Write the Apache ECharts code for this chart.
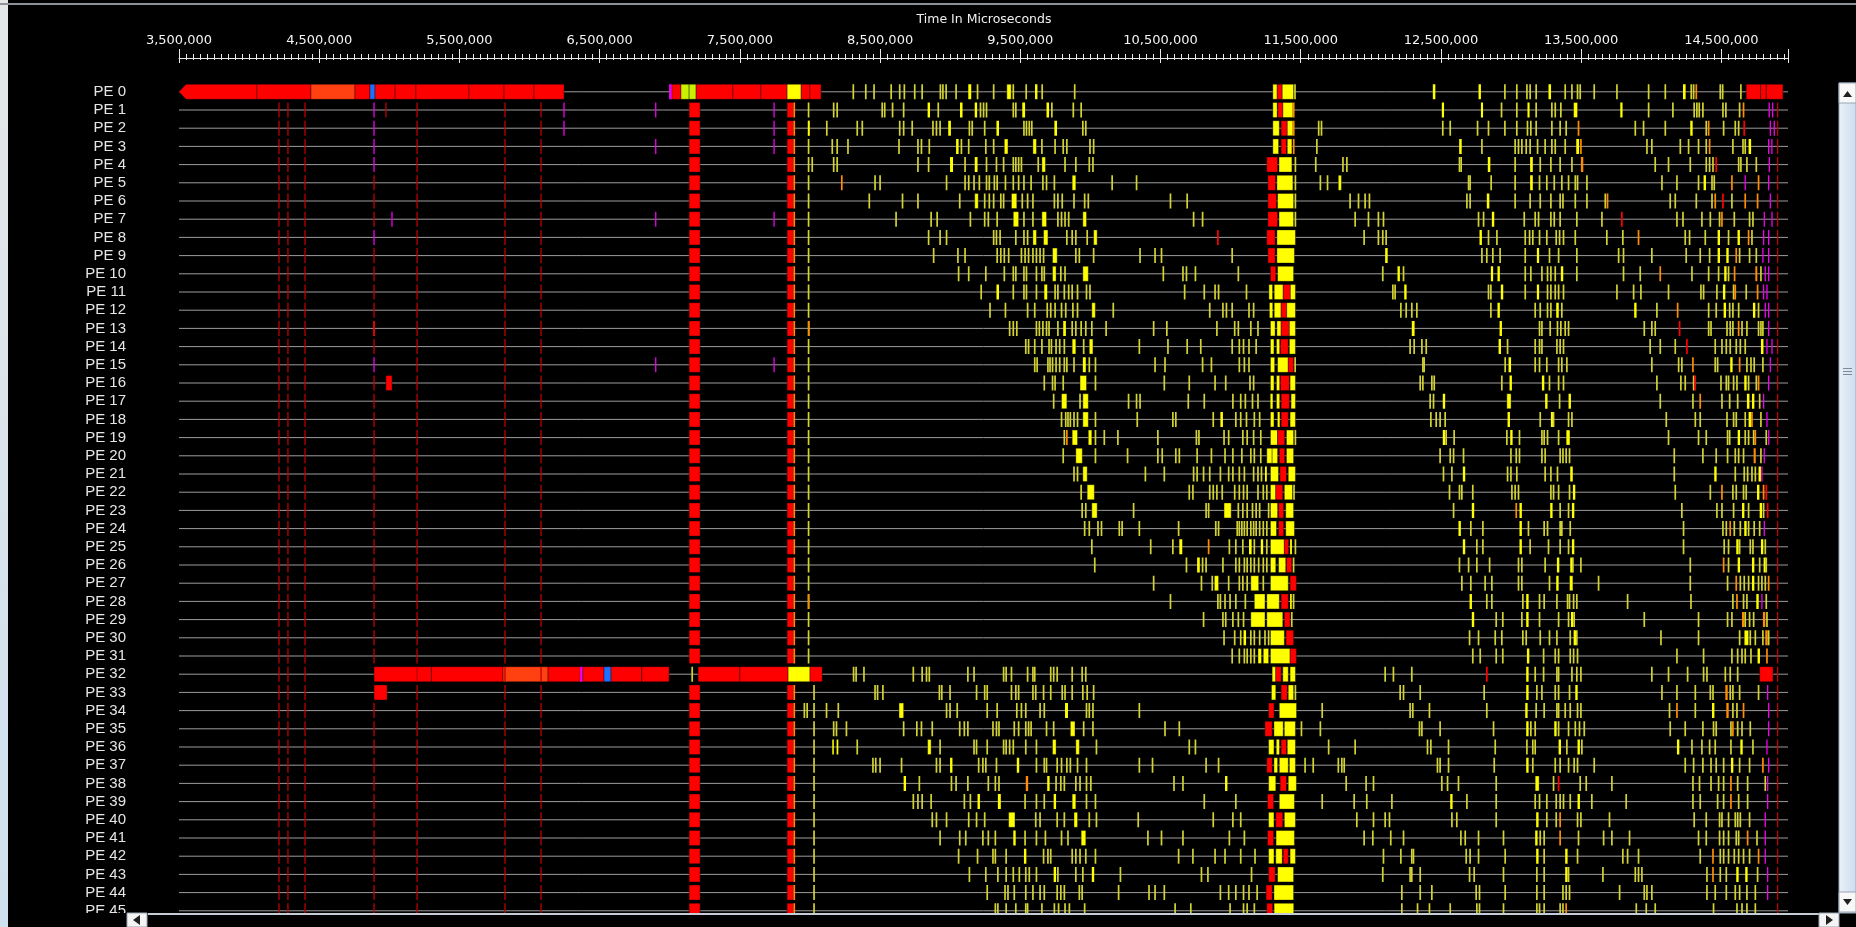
<!DOCTYPE html>
<html><head><meta charset="utf-8">
<script src="https://cdn.jsdelivr.net/npm/echarts@6/dist/echarts.min.js"></script>
<style>html,body{margin:0;padding:0;background:#000;overflow:hidden}#c{width:1856px;height:927px}</style>
</head><body><div id="c"></div><script>
// ---------------- data (times in thousands of microseconds) ----------------
const peLabels = ['PE 0','PE 1','PE 2','PE 3','PE 4','PE 5','PE 6','PE 7','PE 8','PE 9','PE 10','PE 11','PE 12','PE 13','PE 14','PE 15','PE 16','PE 17','PE 18','PE 19','PE 20','PE 21','PE 22','PE 23','PE 24','PE 25','PE 26','PE 27','PE 28','PE 29','PE 30','PE 31','PE 32','PE 33','PE 34','PE 35','PE 36','PE 37','PE 38','PE 39','PE 40','PE 41','PE 42','PE 43','PE 44','PE 45'];
const axisMin = 3500000, axisMax = 14975000, axisStep = 1000000;
const tickLabels = ['3,500,000','4,500,000','5,500,000','6,500,000','7,500,000','8,500,000','9,500,000','10,500,000','11,500,000','12,500,000','13,500,000','14,500,000'];
const axisTitle = 'Time In Microseconds';

// colour keys: y yellow, r red, n orange-red, o orange, m magenta, b blue, g yellow-green, d dark red
// number = thin yellow mark, [t,'c'] = thin mark of colour c, [s,e] = yellow block, [s,e,'c'] = block of colour c
const sharedMarks = [[4213,'d'],[4277,'d'],[4399,'d'],[5198,'d'],[5825,'d'],[6082,'d'],[14901,'d']];
const syncMarksA = [[7138,7216,'r'],[7837,7882,'r'],[7882,7894,'o'],7990];   // PE 1-31
const syncMarksB = [[7138,7216,'r'],[7837,7882,'r'],[7882,7894,'o'],8029];   // PE 33-45
const pe0Bars = [[3500,4056,'r'],[4056,4441,'r'],[4441,4755,'n'],[4755,4862,'r'],[4862,4898,'b'],[4898,5041,'r'],[5041,5190,'r'],[5190,5568,'r'],[5568,5818,'r'],[5818,6032,'r'],[6032,6246,'r'],
  [6995,7016,'m'],[7016,7080,'r'],[7080,7138,'g'],[7138,7188,'g'],[7188,7450,'r'],[7450,7650,'r'],[7650,7837,'r'],[7837,7937,'y'],[7937,8000,'r'],[8000,8079,'r'],
  [14677,14780,'r'],[14780,14820,'r'],[14820,14939,'r']];
const pe32Bars = [[4891,5300,'r'],[5300,5811,'r'],[5811,6132,'n'],[6132,6360,'r'],[6360,6380,'m'],[6380,6531,'r'],[6531,6581,'b'],[6581,6800,'r'],[6800,6995,'r'],[7160,'y'],
  [7202,7500,'r'],[7500,7844,'r'],[7844,8000,'y'],[8000,8087,'r'],[14773,14868,'r']];

const rowEvents = [
/*0*/ [8309,8398,8457,8579,8640,8673,8747,8800,8930,8948,8971,9042,[9129,9150],9195,9310,[9404,9435],9450,9542,[9605,9622],9656,9888,
  [11301,11332],[11332,11368,'r'],[11368,11449],11459,
  [12442,12460],[12768,12785],12956,13041,13113,13136,13179,[13267,13285],13386,13434,13474,13493,13593,13755,13981,14100,[14226,14245],14285,14302,[14321,'o'],14492,14509,14639],
/*1*/ [[4891,'m'],[4976,'d'],[6246,'m'],[6900,'m'],[7744,'m'],8169,8194,8515,8533,8589,8668,[8839,8856],8915,[9070,9088],[9175,9192],9216,9238,9259,9450,9468,[9514,9534],[9687,9705],9725,9878,9934,
  [11301,11332],[11337,11373,'r'],[11373,11444],[11450,'o'],
  [12506,12522],[12785,12800],12932,13041,[13117,13132],13179,13291,13315,13355,[13446,13474],[13779,13795],13981,14154,14306,14325,14342,14368,14511,14532,14630,[14658,'o'],[14841,'m'],[14865,'m']],
/*2*/ [[4891,'m'],[6246,'m'],[7744,'m'],[7986,7998],8120,8337,8373,8640,8668,8729,8877,8902,8928,[8986,9005],9137,9157,9246,[9330,9348],9526,9544,9564,9582,[9743,9762],9946,9967,
  [11301,11347],[11360,11404,'r'],[11404,11444],[11450,'o'],11628,11648,
  12513,12566,12761,12839,12956,13041,13117,13141,13179,13291,13350,13393,[13481,'o'],13886,13945,14100,[14278,14295],14392,[14409,'o'],14516,14599,14623,[14663,'r'],[14849,'m'],[14877,14885,'m']],
/*3*/ [[4891,'m'],[6900,'m'],[7744,'m'],8159,8194,8271,8635,8770,8795,8851,[9042,9060],9080,9132,9254,9310,[9386,9412],[9590,9615],9654,9748,9806,9832,9997,10023,
  [11301,11342],[11360,11398,'r'],[11404,11437],[11450,'o'],11615,
  [12630,12648],12792,13029,13053,13077,13108,13136,13189,13243,13291,13315,13386,[13465,13485],[13498,'o'],13969,14004,14207,14266,14337,14392,[14416,'o'],14582,14654,14670,[14694,14712],[14837,'m'],[14860,'m']],
/*4*/ [[4891,'m'],8016,8169,8194,8770,8846,[8999,9020],9106,[9175,9195],9259,9330,9381,9450,9468,9488,9508,9628,[9654,9679],9819,9896,9992,10018,
  [11258,11335,'r'],[11345,11437],11462,11607,11801,11829,
  12632,12644,[12834,12852],13029,[13136,13155],13208,13284,13350,13434,[13498,13515,'o'],14028,14123,14278,14392,14416,14440,[14463,'r'],14623,14639,14682,14749,[14842,14850,'m']],
/*5*/ [[4891,'d'],[8227,'o'],8464,8500,8974,9106,9132,9170,9208,9259,9279,9315,9335,9394,9450,9488,9526,9577,9661,9687,9743,[9870,9896],10155,10329,
  [11266,11320,'r'],[11330,11444],11462,11640,11691,[11768,11790],
  12697,12708,12858,13029,[13136,13155],13203,13255,13308,13362,13410,13458,13474,13541,14076,14183,14337,[14373,14390],14433,14449,[14575,'o'],[14670,'m'],[14765,'o'],[14837,14845,'m']],
/*6*/ [[4891,'d'],8423,8660,8770,9068,[9175,9200],9246,9279,9310,9361,9381,[9437,9475],9514,9552,9590,9743,9768,9799,9883,9959,9985,10571,10690,
  [11266,11327,'r'],[11335,11449],11462,11852,11912,11959,11990,
  12685,12708,[12827,12845],13029,13136,13208,13284,13350,13370,13458,13541,13672,[13688,'o'],14135,14171,14321,14433,[14456,'o'],[14511,'r'],14575,[14670,'o'],[14758,'o'],[14849,'m']],
/*7*/ [[4891,'d'],[5019,'m'],[6900,'m'],[7744,'m'],8614,8864,8907,9144,9246,9272,9335,[9450,9488],9526,9590,[9654,9687],9768,9794,9819,9845,[9946,9972],10736,10800,
  [11266,11335,'r'],[11345,11449],11462,11888,11983,12054,12090,
  12768,12804,[12863,12880],13094,13172,13196,13284,13308,13350,13469,13648,[13790,'r'],14183,14226,14361,14421,14487,[14504,'o'],14592,14701,14725,[14806,'m'],[14861,'m']],
/*8*/ [[4891,'m'],8846,8928,8974,9310,9330,9356,9468,9526,9552,[9590,9615],[9666,9697],9832,9870,9896,9977,[10023,10048],[10909,'r'],
  [11258,11317,'r'],[11330,11462],
  11952,12054,12085,12109,[12775,12792],12839,12899,13101,13132,13155,13203,13255,13322,13346,13374,13458,13683,13797,[13909,'o'],14242,14273,14385,[14473,14490],14551,[14615,14632],[14694,'o'],14718,[14801,'m'],[14837,'m']],
/*9*/ [[4891,'d'],8882,9055,9106,9335,9361,9386,9417,9508,9534,9559,9590,9615,9641,9666,[9730,9763],9896,9921,10023,10354,10461,10507,11011,
  [11266,11317,'r'],[11330,11455],
  [12102,12120],12792,12827,12870,12922,13101,[13184,13200],13274,13339,13469,13767,13802,14004,14249,14349,14416,[14473,14490],[14535,14552],[14606,'o'],14630,14701,14749,[14796,'m'],[14837,'m']],
/*10*/ [[4891,'d'],9060,9132,9254,9386,9450,9468,9526,9544,9615,9654,9671,[9730,9755],9789,9819,[9946,9985],10520,10660,10685,10749,11055,
  [11284,11322,'r'],[11335,11449],
  12085,[12190,12207],12233,[12856,12872],[12903,12920],13101,13141,13220,13260,13284,13315,[13355,13372],13469,13802,13921,[14064,'o'],14290,14409,14480,[14520,14537],14551,[14594,'o'],[14742,14756,'o'],14782,[14813,'m'],[14837,'m']],
/*11*/ [[4891,'d'],9221,[9330,9348],9450,9526,9544,9615,[9671,9692],9748,9768,9814,9845,9870,9908,9972,9997,10672,10812,10889,10914,11113,
  [11273,11299],[11311,11375],[11375,11426,'r'],[11426,11462],
  12157,12173,[12238,12255],12839,12856,[12927,12944],13101,[13184,13200],13260,13284,13315,13339,13374,13755,13874,13926,14123,14354,14373,14468,[14511,14528],14587,[14599,'o'],14677,[14758,'o'],[14801,'m'],[14825,'m']],
/*12*/ [[4891,'d'],9284,9394,9552,9603,9692,9717,9748,9794,9824,9875,9908,[10010,10035],10163,10851,10945,10970,11011,11131,11164,
  [11278,11299],[11311,11360],[11360,11400,'r'],[11400,11462],
  12214,12252,12292,12328,12856,[12903,12920],13172,13208,13260,13284,[13322,13340],13362,[13878,13895],14040,[14188,'o'],14409,14463,[14516,14533],14559,14582,14623,[14725,14742],14765,[14813,'m'],[14837,'m']],
/*13*/ [[4891,'r'],[7992,8002,'o'],9424,9450,9475,9615,9636,9661,9687,9705,9768,[9806,9825],9870,9896,9934,9967,10010,10112,10451,10545,10902,11029,11055,11144,11195,
  [11284,11317],[11330,11360],[11360,11419,'r'],[11419,11462],
  [12292,12312],[12918,12935],13203,13220,13279,13331,13355,13386,13410,13950,14004,14028,[14202,'r'],14409,14426,14540,14563,14582,[14623,'o'],14647,14682,14765,14782,14796,[14837,14845,'m']],
/*14*/ [[4891,'d'],9539,9559,9603,9654,9705,9722,9755,9781,9814,[9870,9896],9952,[9992,10018],10349,10553,10690,10787,11011,11062,11092,11131,11182,
  [11284,11309],[11327,11350],[11355,11411,'r'],[11419,11462],
  12280,12309,12364,12395,[12911,12928],12975,13172,13203,13220,13327,13350,13374,13992,14064,14171,[14254,'r'],14456,14504,14535,14563,14606,14635,14670,[14782,14800],[14825,'m'],[14861,'m']],
/*15*/ [[4891,'m'],[6900,'m'],[7744,'m'],9603,9620,9697,9712,9730,9755,9781,9814,9832,9883,[9946,9967],9992,10036,10461,10532,10800,10863,11062,11098,11131,
  [11284,11314],[11335,11411],[11411,11449,'r'],11460,
  12371,12380,12958,[12982,13000],13172,13203,13255,13339,13362,13398,14004,14195,14218,[14297,'o'],14456,14473,[14563,14580],[14630,'o'],14682,14711,14734,14796,[14849,14857,'m']],
/*16*/ [[4891,'d'],[4976,5019,'r'],9671,9730,9748,9806,[9926,9972],10036,10527,10705,10889,10965,11138,11164,
  [11284,11309],[11327,11350],[11355,11419,'r'],[11424,11462],
  12352,12371,12435,12452,12934,[12989,13006],[13220,13237],13274,13339,13374,14040,14211,14242,14302,[14313,'r'],14497,14535,14551,14587,14611,[14663,14680],14694,14749,[14765,'o'],[14837,'m']],
/*17*/ [[4891,'d'],9738,[9794,9832],9926,[9946,9985],10272,10329,10354,10698,10812,11016,11072,11105,11156,11195,
  [11284,11300],[11327,11350],[11360,11419,'r'],[11431,11462],
  12423,12447,[12513,12530],[12970,13000],[13243,13260],13346,[13410,13427],14064,14297,[14349,'o'],14504,14559,14616,[14682,14700],[14718,14735],14773,[14801,'m']],
/*18*/ [[4891,'d'],9794,9824,9840,9857,9883,9908,[9946,9985],10036,10334,10588,10609,10876,[10927,10945],11037,11072,11113,11169,11207,
  [11284,11309],[11335,11350],[11360,11411,'r'],[11424,11462],
  12428,12466,12494,12530,[12975,12992],13208,[13284,13300],13303,13410,13434,14107,14314,14349,14540,14587,14606,14670,[14694,14711],[14718,'o'],14782,[14825,'m']],
/*19*/ [[4891,'d'],9814,[9832,'o'],[9870,9908],[9985,10010],10036,10099,10196,10481,10756,10774,10953,10986,11087,11118,11164,11215,
  [11284,11335],[11335,11386,'r'],[11398,11449],11462,
  [12513,12530],12537,12594,12970,[12994,13011],13060,13220,13236,13260,13339,[13393,13420],14123,14337,14392,14544,14559,[14616,14633],14670,14694,14730,[14742,'o'],14820,[14837,'m']],
/*20*/ [[4891,'d'],9806,[9896,9942],10036,10265,10481,10512,10609,10634,10761,10863,10960,11016,11080,11144,11169,11215,
  [11258,11296],[11296,11335],[11347,11386,'r'],[11398,11449],
  12494,12566,12590,12661,12999,13037,13060,13220,13243,13350,13370,13393,13417,14164,14368,14463,14544,14599,14623,14658,[14730,14745,'o'],14782,[14806,'m']],
/*21*/ [[4891,'d'],9883,9908,[9946,9977],10392,10527,10736,10761,10807,10851,10927,10986,11016,11062,11098,11164,11195,11220,[11245,11258],
  [11284,11341],[11352,11398,'r'],[11411,11462],
  12518,12578,[12656,12673],12975,12999,13041,13243,13284,13331,[13422,13440],14164,[14449,14466],14599,14663,14687,14718,14742,[14765,14782],[14789,'m']],
/*22*/ [[4891,'d'],9934,[9977,10028],10705,10731,10851,10876,10902,10940,11029,11062,11092,11118,11195,11233,11258,
  [11284,11322],[11322,11372,'r'],[11383,11441],11452,
  12561,12632,12649,12727,13006,13029,13053,13284,13303,13339,13417,[13441,13458],14171,14421,[14504,'o'],14582,14606,14658,14677,[14754,14771],[14801,'o'],[14820,'r']],
/*23*/ [[4891,'d'],9941,9967,[10010,10048],10308,10825,10843,[10953,11004],11055,11087,11118,11156,11182,11207,11271,
  [11284,11335],[11342,11378,'r'],[11393,11449],
  12590,[12720,12737],[13037,'o'],[13060,13077],[13279,13296],13350,13410,[13434,13451],14218,14468,14504,14587,[14647,14664],14694,[14773,14790],14801,[14830,'r']],
/*24*/ [[4891,'d'],9959,9992,10054,10079,10206,10226,10349,10629,10894,10914,11047,11062,11080,11098,11118,11144,11164,11182,11207,11233,11258,
  [11284,11327],[11342,11378,'r'],[11393,11455],
  [12625,12642],12713,12799,[13060,13077],13124,13236,13260,13350,13362,13422,14230,14511,14535,[14563,'o'],14592,14635,[14663,14680],14694,14734,14773,[14806,14816,'m']],
/*25*/ [[4891,'d'],10010,10430,10588,[10634,10655],[10843,'o'],10991,11037,11087,[11131,11150],11169,[11215,11232],11258,
  [11284,11383],[11383,11414,'r'],[11424,11437],11462,
  [12656,12673],12756,12799,[13060,13077],13136,13267,13350,13410,[13434,13451],14230,14520,14551,[14606,14623],14630,14706,14725,[14782,14799],14813],
/*26*/ [[4891,'d'],10031,10685,[10761,10780],10800,10825,10945,11037,11062,11098,11118,11144,11169,11200,11233,11258,
  [11284,11322],[11342,11393],[11398,11436,'r'],11449,
  12632,12697,12756,12847,13053,13077,13243,[13327,13344],[13422,13439],13441,13498,14278,[14516,'o'],14551,[14616,14633],[14718,14735],14773,[14801,14816],14820],
/*27*/ [[4891,'d'],10451,10792,10869,[10884,10914],10986,11062,11087,11118,[11144,11200],11233,
  [11284,11411],[11424,11469,'r'],
  12649,12713,12815,12863,13053,13077,13274,[13322,13339],[13417,13441],13624,14278,14544,[14606,'o'],14635,14663,14694,[14718,14735],14765,14789,14813,[14837,'o']],
/*28*/ [[4891,'d'],[7990,8000,'o'],10571,10909,10927,10960,10996,11037,11105,
  [11169,11245],[11258,11347],[11360,11411,'r'],[11424,11436],11449,
  [12704,12721],12827,12863,13084,[13108,13125],13203,13236,13327,13403,13417,13446,13469,13831,14283,14582,[14611,'o'],14658,14682,[14749,14766],[14789,'m'],14820],
/*29*/ [[4891,'d'],10807,10945,10965,11016,11055,11092,
  [11144,11245],[11258,11372],[11383,11424,'r'],11436,
  [12720,12737],12894,12941,13077,[13108,13125],13203,13339,13410,[13427,13444],13450,13950,14337,14544,14575,[14647,14664,'o'],14670,14701,14730,[14796,14813,'o'],14825],
/*30*/ [[4891,'d'],10953,11029,11072,[11092,11110],11144,11169,11207,11245,11271,
  [11284,11383],[11395,11449,'r'],
  12704,12768,12887,12934,13084,13108,13208,13274,13327,13422,[13446,13463],13469,14069,14337,14630,[14663,14694],14706,14742,14796,[14813,14830,'o'],14837],
/*31*/ [[4891,'d'],11011,11062,11098,11118,11144,11169,[11195,11220],[11233,11271],
  [11284,11424],[11424,11469,'r'],
  12727,12780,12894,12941,[13113,13130],13232,13315,13339,13422,13446,13474,14183,14373,14575,14616,14647,14670,14711,[14758,14775],[14825,'o']],
/*32*/ [8311,8329,8385,8737,8800,8831,8851,9126,9170,9381,9399,9437,9552,9590,9603,9717,9738,9763,9870,9941,9967,
  [11296,11322],[11322,11360,'r'],[11372,11411],[11424,11462],
  12102,12161,12292,[12827,'r'],[13108,13125],13172,13232,13327,13339,13434,13469,13498,14004,14123,14259,14373,14397,14528,14563,14616],
/*33*/ [[4891,4984,'r'],8464,8482,8520,8923,8940,8999,9188,9246,9264,9437,9468,9488,9590,9610,9666,9717,9799,9819,9870,9946,9977,10023,
  [11291,11322],[11360,11404,'r'],[11411,11449],11462,
  12209,12233,12352,12808,[13108,13125],13184,13220,13315,13339,13417,[13458,13475],14076,14183,14314,14421,14440,[14528,14545,'o'],14563,14582,14630,14765,[14830,'m']],
/*34*/ [[4891,'d'],7960,7980,8118,8202,[8635,8668],8974,8999,9050,9264,9335,9475,9508,9539,9641,9671,[9819,9840],9972,9992,10018,10349,
  [11271,11309,'r'],[11347,11470],11653,
  12280,12299,12418,12827,[13101,13118],13179,13236,13327,13339,13386,13422,13474,13498,14130,[14183,'o'],14314,[14433,14450],[14535,14552,'o'],14582,14611,[14658,'o'],[14837,'m']],
/*35*/ [[4891,'d'],8169,8189,8260,8668,8762,8795,8872,9068,9101,9126,9305,9330,9348,9457,9488,9539,9559,9577,9687,9738,[9857,9890],9952,10018,10532,10634,
  [11245,11296,'r'],[11309,11375],[11383,11462],11505,11640,
  12347,12364,12494,12875,[13108,13125],13141,13172,[13308,13325],13339,13410,13458,13488,13522,14135,14242,14368,14444,14463,14568,[14582,'o'],14616,14647,14706,[14837,'m']],
/*36*/ [[4891,'d'],[8159,8170],[8190,8202],8337,[8839,8864],8928,9170,9188,9264,9381,9399,9424,9450,9539,9615,[9730,9755],[9896,9921],10043,10705,10749,11699,
  [11271,11309],[11327,11347],[11360,11398,'r'],[11404,11462],
  11888,12404,12428,12554,12887,13113,13155,13172,[13339,13356],13398,[13474,13491],13505,[14183,14200],14290,14361,14416,14456,14568,[14635,14652],14725,[14825,'m']],
/*37*/ [[4891,'d'],8449,8469,8500,8653,8902,8928,[8999,9016],9203,9233,9254,9330,[9475,9492],9615,9671,9687,9763,9794,9832,9857,9908,9972,10349,10443,10825,10914,
  [11258,11296,'r'],[11309,11335],[11347,11411],[11419,11462],11531,11589,11768,11793,
  11810,12475,12494,12554,12880,[13108,13125],13155,13315,13350,13410,13450,13474,13593,14242,14302,14368,14426,14463,14516,[14568,14585],14630,14701,[14796,'o'],[14837,'m']],
/*38*/ [[4891,'d'],[8668,8685],8780,9009,9042,9126,9272,9322,9348,[9539,9556,'o'],[9692,9709],9755,9789,9814,9896,9926,9972,10003,10596,10660,[10960,10977],
  [11271,11322],[11353,11398,'r'],[11411,11469],
  11824,11966,12019,12506,12547,12625,12894,[13172,13200],13303,[13339,'r'],13493,13536,13719,14297,14344,14426,14480,14516,[14568,'o'],14616,14687,14813,[14830,'m']],
/*39*/ [[4891,'d'],8737,8770,8800,8864,9101,9144,[9195,9212],[9340,9361],9534,9615,9671,[9738,9755],[9870,9896],9972,10036,10812,11037,
  [11263,11306,'r'],[11347,11455],11653,
  11881,11971,12150,[12566,12583],12685,12894,13172,13203,13255,13322,13350,13374,13422,[13474,13491],13576,13821,14297,14349,14473,14516,[14568,'o'],14623,14687,[14830,'m']],
/*40*/ [[4891,'d'],8872,8902,8974,9132,9188,9246,[9417,9462],9610,9641,9763,9814,[9883,9908],9992,10043,10341,10876,11016,11072,
  [11271,11309],[11322,11372,'r'],[11383,11462],
  11900,12019,12102,12133,12578,12613,12894,[13179,13196],13255,13322,[13350,'o'],13474,13498,13702,14306,14392,14487,14504,14551,14599,14616,14635,14701,[14813,14821,'m']],
/*41*/ [[4891,'d'],8928,9068,9111,9233,9272,9322,[9450,9467],9534,9615,9679,9794,9840,[9934,9967],10410,10507,10660,10991,11098,
  [11263,11306,'r'],[11324,11455],
  11952,12014,12142,12233,12642,12673,12768,12946,[13172,13189],13208,13236,[13350,'o'],13481,13660,13719,13845,14337,14392,14487,14516,14551,14606,14623,[14687,'o'],14754,[14813,'m']],
/*42*/ [[4891,'d'],9060,9195,9305,9322,9399,[9526,9543],9666,9697,9717,9870,9896,9926,9967,10036,10629,10731,10889,10960,11072,11174,
  [11271,11309],[11322,11368],[11375,11411,'r'],[11424,11462],
  12090,12214,12292,12304,12680,12708,12768,12958,[13179,13196],13236,[13386,13403],13474,13797,13831,13909,14349,[14440,'o'],14492,14516,14551,14592,14623,14658,14701,[14765,'o'],[14813,'m']],
/*43*/ [[4891,'d'],9137,9254,9340,9399,9450,9493,9539,9564,9615,[9738,9755],9768,9896,9946,[10010,10027],10214,10792,10838,11149,
  [11271,11317,'r'],[11335,11449],
  12085,12280,12292,12352,12704,12737,12946,13184,13236,[13386,13403],13410,13655,13886,13909,13933,14397,[14440,'o'],14492,14535,[14606,14623],[14670,14687],14758,[14830,'m']],
/*44*/ [[4891,'d'],9264,9391,9412,9457,9539,9590,9641,9671,9763,9789,9814,9921,9941,10201,10418,10461,10527,10927,10986,11037,11092,11131,11189,
  [11253,11296,'r'],[11309,11449],
  12221,12352,12435,12751,12775,12958,13184,13236,13370,13393,13417,13774,13950,13969,14004,14397,14456,14535,14599,14630,14682,14742,[14830,'m']],
/*45*/ [[4891,'d'],9322,9340,9399,9468,9539,9552,9654,9743,9773,9819,9850,9959,10604,10716,10996,11092,11118,11169,
  [11258,11300,'r'],[11310,11450],
  12221,12333,12418,12566,12756,12775,12946,13184,13203,13236,13350,13370,[13393,'o'],13893,13964,14028,14444,14611,14647,14682,14742]
];

// ---------------- build marks ----------------
const COLORS = {y:'#ffff00', r:'#ff0000', n:'#ff4010', o:'#ff8c00', m:'#f000f0', b:'#1e6eff', g:'#c8f000', d:'#c00000'};
const THIN_YELLOW = '#d2d232';
const events = [];  // [row, startUs, endUs, colourKey, arrow]
function addMarks(row, list) {
  list.forEach(function (ev) {
    if (typeof ev === 'number') events.push([row, ev * 1000, ev * 1000, 'y', 0]);
    else if (typeof ev[1] === 'string') events.push([row, ev[0] * 1000, ev[0] * 1000, ev[1], 0]);
    else events.push([row, ev[0] * 1000, ev[1] * 1000, ev[2] || 'y', 0]);
  });
}
addMarks(0, pe0Bars);
events[0][4] = 1; // the first PE 0 bar continues before the view: arrow head
addMarks(32, pe32Bars);
for (let r = 1; r < peLabels.length; r++) {
  addMarks(r, sharedMarks);
  if (r <= 31) addMarks(r, syncMarksA);
  else if (r >= 33) addMarks(r, syncMarksB);
}
rowEvents.forEach(function (list, r) { addMarks(r, list); });

// ---------------- chart ----------------
const chart = echarts.init(document.getElementById('c'), null, {renderer: 'canvas'});
const GRID_LEFT = 179, GRID_RIGHT = 68, ROW_H = 18.2, ROW0 = 91.8;
const BAR_H = 15;

function renderEvent(params, api) {
  const ev = events[params.dataIndex];
  const p0 = api.coord([ev[1], ev[0]]);
  const p1 = api.coord([ev[2], ev[0]]);
  let x = p0[0], w = p1[0] - p0[0];
  const thin = w < 1.5;
  let color = COLORS[ev[3]];
  if (thin) {
    w = (ev[3] === 'd' || ev[3] === 'm') ? 1.3 : 1.7; x -= w / 2;
    if (ev[3] === 'y') color = THIN_YELLOW;
  }
  const y = p0[1] - BAR_H / 2;
  const style = {fill: color};
  if (!thin && w > 3) { style.stroke = 'rgba(0,0,0,0.45)'; style.lineWidth = 0.8; }
  if (ev[4]) {
    return {type: 'polygon', shape: {points: [[x, p0[1]], [x + 7, y], [x + w, y], [x + w, y + BAR_H], [x + 7, y + BAR_H]]}, style: style};
  }
  return {type: 'rect', shape: {x: x, y: y, width: w, height: BAR_H}, style: style};
}

function renderRowLine(params, api) {
  const row = api.value(0);
  const a = api.coord([axisMin, row]);
  const b = api.coord([axisMax, row]);
  return {type: 'line', shape: {x1: a[0], y1: a[1], x2: b[0], y2: b[1]}, style: {stroke: '#9c9c9c', lineWidth: 1}};
}

const option = {
  backgroundColor: '#000',
  animation: false,
  grid: [
    {left: GRID_LEFT, right: GRID_RIGHT, top: 57, height: 1},
    {left: GRID_LEFT, right: GRID_RIGHT, top: ROW0 - ROW_H / 2, height: ROW_H * peLabels.length}
  ],
  xAxis: [
    {gridIndex: 0, type: 'value', position: 'top', min: axisMin, max: axisMax, interval: axisStep,
      axisLine: {show: true, lineStyle: {color: '#e8e8e8', width: 1}},
      axisTick: {show: true, inside: false, length: 9, lineStyle: {color: '#e8e8e8'}},
      minorTick: {show: true, splitNumber: 20, length: 4, lineStyle: {color: '#e8e8e8'}},
      splitLine: {show: false}, minorSplitLine: {show: false},
      axisLabel: {show: true, color: '#f4f4f4', fontFamily: 'DejaVu Sans', fontSize: 13, margin: 10, showMaxLabel: false,
        formatter: function (v) { const i = Math.round((v - axisMin) / axisStep); return tickLabels[i] || ''; }}},
    {gridIndex: 0, type: 'value', position: 'top', min: axisMin, max: axisMax, interval: axisStep,
      axisLine: {show: false}, axisLabel: {show: false}, splitLine: {show: false},
      axisTick: {show: true, inside: true, length: 6, lineStyle: {color: '#e8e8e8'}},
      minorTick: {show: true, splitNumber: 20, length: 3, lineStyle: {color: '#e8e8e8'}}},
    {gridIndex: 1, type: 'value', min: axisMin, max: axisMax, show: false}
  ],
  yAxis: [
    {gridIndex: 0, type: 'value', show: false},
    {gridIndex: 1, type: 'category', inverse: true, data: peLabels,
      axisLine: {show: false}, axisTick: {show: false}, splitLine: {show: false},
      axisLabel: {show: true, interval: 0, color: '#e6e6e6', fontFamily: 'Liberation Sans', fontSize: 15, margin: 53, padding: [8, 0, 0, 0]}}
  ],
  series: [
    {type: 'custom', xAxisIndex: 2, yAxisIndex: 1, clip: true, z: 1,
      data: peLabels.map(function (l, i) { return [i]; }), encode: {y: 0}, renderItem: renderRowLine, silent: true},
    {type: 'custom', xAxisIndex: 2, yAxisIndex: 1, clip: true, z: 2,
      data: events.map(function (e) { return [e[0], e[1], e[2]]; }), encode: {x: [1, 2], y: 0}, renderItem: renderEvent, silent: true}
  ],
  graphic: [
    {type: 'text', z: 100, x: 984, y: 20, style: {text: axisTitle, fill: '#f0f0f0', font: '12.5px "DejaVu Sans"', align: 'center', verticalAlign: 'middle'}},
    // window frame
    {type: 'rect', z: 100, shape: {x: 0, y: 0, width: 8, height: 927}, style: {fill: new echarts.graphic.LinearGradient(0, 0, 0, 1, [{offset: 0, color: '#e4e6e8'}, {offset: 1, color: '#cfe0ee'}])}},
    {type: 'rect', z: 100, shape: {x: 0, y: 3, width: 1856, height: 2}, style: {fill: '#8e9296'}},
    // vertical scrollbar
    {type: 'rect', z: 100, shape: {x: 1839, y: 83, width: 17, height: 830}, style: {fill: new echarts.graphic.LinearGradient(0, 0, 1, 0, [{offset: 0, color: '#eaf1f9'}, {offset: 1, color: '#cddcee'}]), stroke: '#9aaabb', lineWidth: 1}},
    {type: 'rect', z: 101, shape: {x: 1839, y: 83, width: 17, height: 20}, style: {fill: '#f8f8f8', stroke: '#9aa6b2', lineWidth: 1}},
    {type: 'polygon', z: 102, shape: {points: [[1843, 97], [1852, 97], [1847.5, 91]]}, style: {fill: '#202020'}},
    {type: 'rect', z: 101, shape: {x: 1839, y: 892, width: 17, height: 20}, style: {fill: '#f8f8f8', stroke: '#9aa6b2', lineWidth: 1}},
    {type: 'polygon', z: 102, shape: {points: [[1843, 899], [1852, 899], [1847.5, 905]]}, style: {fill: '#202020'}},
    {type: 'rect', z: 102, shape: {x: 1843, y: 368, width: 9, height: 1}, style: {fill: '#7d8a98'}},
    {type: 'rect', z: 102, shape: {x: 1843, y: 371, width: 9, height: 1}, style: {fill: '#7d8a98'}},
    {type: 'rect', z: 102, shape: {x: 1843, y: 374, width: 9, height: 1}, style: {fill: '#7d8a98'}},
    // horizontal scrollbar
    {type: 'rect', z: 100, shape: {x: 8, y: 913, width: 1831, height: 14}, style: {fill: '#000'}},
    {type: 'rect', z: 101, shape: {x: 148, y: 913, width: 1672, height: 2}, style: {fill: '#c4ccd6'}},
    {type: 'rect', z: 101, shape: {x: 127, y: 913, width: 20, height: 14}, style: {fill: '#f4f4f4', stroke: '#9aa6b2', lineWidth: 1}},
    {type: 'polygon', z: 102, shape: {points: [[133, 920], [140, 915], [140, 925]]}, style: {fill: '#202020'}},
    {type: 'rect', z: 101, shape: {x: 1819, y: 913, width: 20, height: 14}, style: {fill: '#f4f4f4', stroke: '#9aa6b2', lineWidth: 1}},
    {type: 'polygon', z: 102, shape: {points: [[1833, 920], [1826, 915], [1826, 925]]}, style: {fill: '#202020'}}
  ]
};
chart.setOption(option);
</script></body></html>
